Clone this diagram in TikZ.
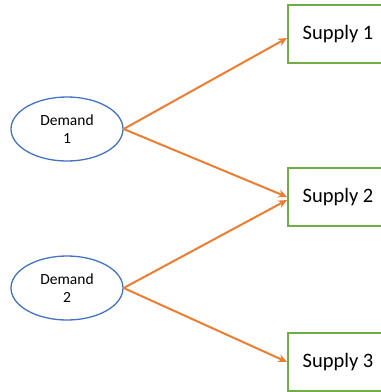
\documentclass[tikz,border=0pt]{standalone}
\usepackage{fontspec}
\setmainfont{Carlito}
\usetikzlibrary{arrows.meta,shapes.geometric}
\definecolor{dblue}{HTML}{4472C4}
\definecolor{sgreen}{HTML}{70AD47}
\definecolor{aorange}{HTML}{ED7D31}
\tikzset{
  demand/.style={draw=dblue, line width=1.3pt, ellipse, minimum width=112pt, minimum height=64pt,
    inner sep=0pt, align=center, font=\fontsize{15.5}{18}\selectfont},
  supply/.style={draw=sgreen, line width=1.8pt, rectangle, minimum width=100pt, minimum height=58pt,
    inner sep=0pt, font=\fontsize{20.5}{24}\selectfont},
  flow/.style={draw=aorange, line width=2pt, -{Stealth[length=9pt,width=8pt]}}
}
\begin{document}
\begin{tikzpicture}[x=1pt,y=-1pt]
  \useasboundingbox (0,0) rectangle (381,392);
  \clip (0,0) rectangle (381,392);
  \node[demand] (d1) at (67,129) {Demand\\1};
  \node[demand] (d2) at (67,288) {Demand\\2};
  \node[supply] (s1) at (338,34) {Supply 1};
  \node[supply] (s2) at (338,197) {Supply 2};
  \node[supply] (s3) at (338,362) {Supply 3};
  \draw[flow] (d1.east) -- (s1.west |- 0,38);
  \draw[flow] (d1.east) -- (s2.west |- 0,197);
  \draw[flow] (d2.east) -- (s2.west |- 0,200);
  \draw[flow] (d2.east) -- (s3.west |- 0,362);
\end{tikzpicture}
\end{document}
